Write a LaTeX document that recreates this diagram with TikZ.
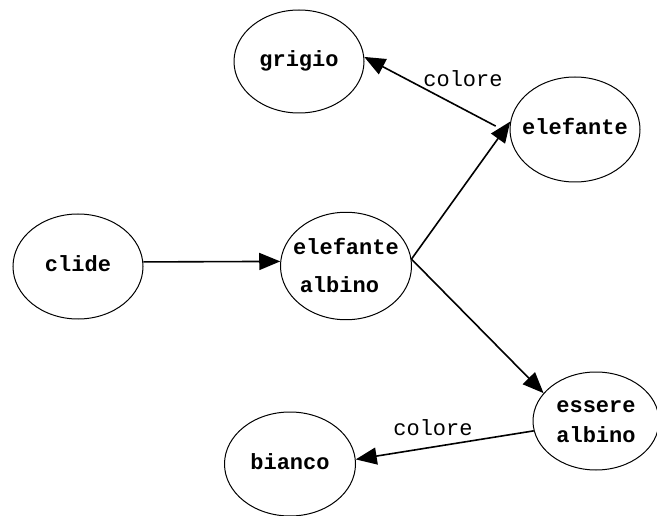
\documentclass[tikz,border=0pt]{standalone}
\usepackage{fontspec}
\newfontfamily\monofont{Liberation Mono}
\usetikzlibrary{arrows.meta,shapes.geometric}
\newcommand{\zbox}[2]{\makebox[0pt]{\fontsize{22}{#1}\selectfont\begin{tabular}{@{}c@{}}#2\end{tabular}}}
\tikzset{
  nd/.style={draw=black, line width=1pt, ellipse, inner sep=0pt,
    font=\monofont\bfseries\fontsize{22}{38}\selectfont},
  ed/.style={line width=1.6pt, -{Triangle[length=21pt,width=17pt]}},
  lbl/.style={font=\monofont\fontsize{22}{26}\selectfont, inner sep=0pt}
}
\begin{document}
\begin{tikzpicture}[x=1pt,y=-1pt]
\useasboundingbox (0,0) rectangle (657,516);
\node[nd, minimum width=130pt, minimum height=103pt] (grigio) at (299,61.5) {\zbox{26}{grigio}};
\node[nd, minimum width=130pt, minimum height=105pt] (elefante) at (575,129.5) {\zbox{26}{elefante}};
\node[nd, minimum width=130pt, minimum height=105pt] (clide) at (78,266.5) {\zbox{26}{clide}};
\node[nd, minimum width=131pt, minimum height=104pt] (ea) at (346,266) {\zbox{38}{elefante\\albino\hphantom{x}}};
\node[nd, minimum width=126pt, minimum height=98pt] (essere) at (596,421) {\zbox{30}{essere\\albino}};
\node[nd, minimum width=131pt, minimum height=104pt] (bianco) at (290,464) {\zbox{26}{bianco}};

\draw[ed] (clide.4) -- (ea.176);
\draw[ed] (ea.6) -- (elefante.173);
\draw[ed] ([xshift=-14pt]elefante.177) -- (grigio.4);
\draw[ed] (ea.6) -- (essere.152);
\draw[ed] (essere.189) -- (bianco.4);

\node[lbl] (l1) at (463,79) {colore};
\node[lbl] (l2) at (433,428) {colore};
\end{tikzpicture}
\end{document}
